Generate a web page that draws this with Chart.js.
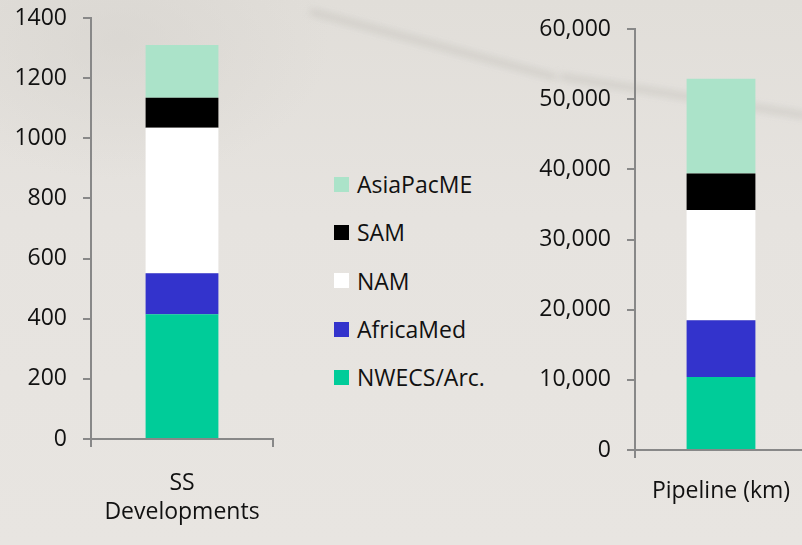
<!DOCTYPE html>
<html>
<head>
<meta charset="utf-8">
<script src="https://cdn.jsdelivr.net/npm/chart.js@4/dist/chart.umd.min.js"></script>
<style>
  html, body { margin: 0; padding: 0; }
  body {
    width: 802px; height: 545px; overflow: hidden; position: relative;
    font-family: "Open Sans", sans-serif;
    background:
      radial-gradient(ellipse 300px 200px at 120px 40px, rgba(214,211,206,0.6), rgba(0,0,0,0) 70%),
      linear-gradient(180deg, #e1ded9 0%, #e6e3df 40%, #e8e5e1 100%);
  }
  .streak { position: absolute; height: 7px; background: rgba(180,177,173,0.35); filter: blur(3.5px); transform-origin: 0 50%; }
  canvas { position: absolute; top: 0; }
  #dev { left: 0; }
  #pipe { left: 520px; }
  #legend { position: absolute; left: 334px; top: 160px; }
  .item { display: flex; align-items: center; height: 48.3px; font-size: 23px; color: #111; }
  .swatch { width: 15px; height: 15px; margin-right: 8px; }
</style>
</head>
<body>
<div class="streak" style="left:310px;top:8px;width:255px;transform:rotate(15deg);"></div>
<div class="streak" style="left:560px;top:73px;width:250px;transform:rotate(9deg);"></div>
<canvas id="dev" width="300" height="545"></canvas>
<div id="legend"></div>
<canvas id="pipe" width="290" height="545"></canvas>
<script>
const seriesNames = ['NWECS/Arc.', 'AfricaMed', 'NAM', 'SAM', 'AsiaPacME'];
const seriesColors = ['#00cc99', '#3333cc', '#ffffff', '#000000', '#abe3c9'];
const devCategories = [['SS', 'Developments']];
const devValues = [415, 136, 484, 100, 175];
const pipeCategories = ['Pipeline (km)'];
const pipeValues = [10400, 8100, 15700, 5200, 13500];
const devTicks = { max: 1400, step: 200 };
const pipeTicks = { max: 60000, step: 10000 };

const axisColor = '#888888';
const font = { family: '"Open Sans", sans-serif', size: 23 };

function makeChart(id, labels, values, ticks, opts) {
    const datasets = seriesNames.map((name, i) => ({
        label: name,
        data: [values[i]],
        backgroundColor: seriesColors[i],
        borderWidth: 0,
        barPercentage: 0.4,
        categoryPercentage: 1
    }));
    return new Chart(document.getElementById(id), {
        type: 'bar',
        data: { labels: labels, datasets: datasets },
        options: {
            responsive: false,
            animation: false,
            layout: { padding: { top: opts.top, right: opts.right, bottom: 0, left: 0 } },
            plugins: { legend: { display: false }, tooltip: { enabled: false } },
            scales: {
                x: {
                    stacked: true,
                    grid: { drawOnChartArea: false, drawTicks: true, tickLength: 8, color: axisColor, lineWidth: 2 },
                    border: { color: axisColor, width: 2 },
                    ticks: { color: '#111', font: Object.assign({ lineHeight: 1.25 }, font), padding: opts.xPad, maxRotation: 0 },
                    afterFit: scale => {
                        scale.height = 545 - opts.bottom;
                        scale.paddingLeft = 0;
                        scale.paddingRight = 0;
                    }
                },
                y: {
                    stacked: true,
                    min: 0,
                    max: ticks.max,
                    grid: { drawOnChartArea: false, drawTicks: true, tickLength: 8, color: axisColor, lineWidth: 2 },
                    border: { color: axisColor, width: 2 },
                    ticks: {
                        stepSize: ticks.step,
                        color: '#111',
                        font: font,
                        padding: 16,
                        callback: opts.fmt
                    },
                    afterFit: scale => {
                        scale.width = opts.left;
                        scale.paddingTop = 0;
                        scale.paddingBottom = 0;
                    }
                }
            }
        }
    });
}

makeChart('dev', devCategories, devValues, devTicks,
    { left: 91, top: 18, right: 27, bottom: 439, xPad: 22, fmt: v => String(v) });
makeChart('pipe', pipeCategories, pipeValues, pipeTicks,
    { left: 115, top: 29, right: 3, bottom: 450, xPad: 19, fmt: v => v.toLocaleString('en-US') });

// legend, top entry first
const legend = document.getElementById('legend');
for (let i = seriesNames.length - 1; i >= 0; i--) {
    const row = document.createElement('div');
    row.className = 'item';
    row.innerHTML = '<span class="swatch" style="background:' + seriesColors[i] + '"></span>' + seriesNames[i];
    legend.appendChild(row);
}
</script>
</body>
</html>
